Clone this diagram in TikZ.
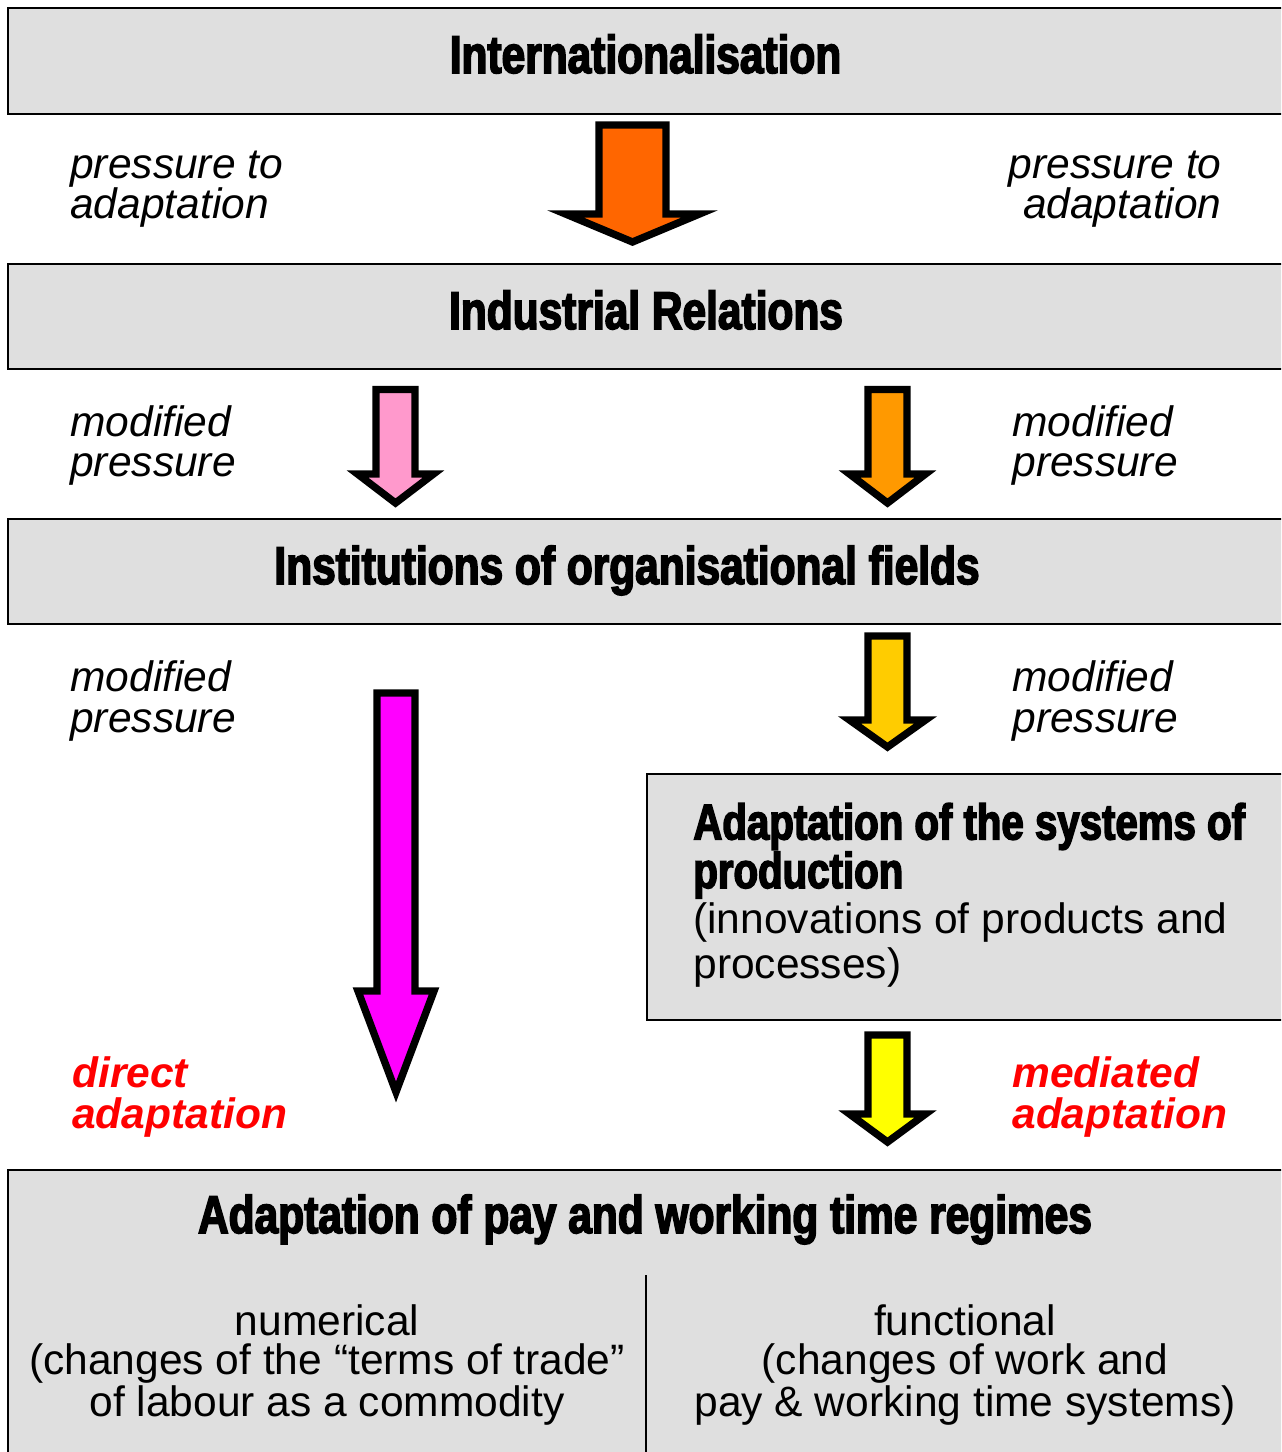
\documentclass[tikz,border=0pt]{standalone}
\usepackage{fontspec}
\setmainfont{Liberation Sans}
\newfontfamily\headfont[FakeStretch=0.8,FakeBold=3]{Liberation Sans}
\newcommand{\subhead}{\headfont\bfseries\fontsize{28.6pt}{25.6pt}\selectfont}
\definecolor{boxgray}{RGB}{223,223,223}
\definecolor{orangeA}{RGB}{255,102,0}
\definecolor{pinkA}{RGB}{255,153,204}
\definecolor{orangeB}{RGB}{255,153,0}
\definecolor{magentaA}{RGB}{255,0,255}
\definecolor{goldA}{RGB}{255,204,0}
\definecolor{yellowA}{RGB}{255,255,0}
\definecolor{redA}{RGB}{255,0,0}

\begin{document}
\begin{tikzpicture}[x=0.02cm, y=-0.02cm,
  box/.style={draw, line width=1.4pt, fill=boxgray, anchor=north west, inner sep=0pt, outer sep=0pt},
  title/.style={anchor=base, inner sep=0pt, font=\headfont\bfseries\fontsize{30.2pt}{30pt}\selectfont},
  pressure/.style={align=left, anchor=base west, inner sep=0pt, font=\itshape\fontsize{24.2pt}{23.3pt}\selectfont},
  adapt/.style={pressure, text=redA, font=\bfseries\itshape\fontsize{24.2pt}{23.3pt}\selectfont},
  regime/.style={align=center, anchor=base, inner sep=0pt, font=\fontsize{24.2pt}{22.2pt}\selectfont},
  pics/blockarrow/.style args={#1/#2/#3/#4/#5}{code={
    \filldraw[line width=4.2pt, fill=#5, miter limit=8] (-#1,0) -- (#1,0) -- (#1,#2) -- (#3,#2) -- (0,#4) -- (-#3,#2) -- (-#1,#2) -- cycle;}}
]
\clip (0,0) rectangle (1281,1452);

% Boxes
\node[box, minimum width=25.74cm, minimum height=2.12cm] (intl) at (8,8) {};
\node[box, minimum width=25.62cm, minimum height=2.1cm] (ir) at (8,264) {};
\node[box, minimum width=25.62cm, minimum height=2.1cm] (fields) at (8,519) {};
\node[box, minimum width=12.96cm, minimum height=4.92cm] (production) at (647,774) {};
\node[box, minimum width=25.74cm, minimum height=6cm] (regimes) at (8,1170) {};

% Box titles
\node[title] (intltitle) at (645.5,73) {Internationalisation};
\node[title] (irtitle) at (646,329) {Industrial Relations};
\node[title] (fieldstitle) at (627,584) {Institutions of organisational fields};
\node[title] (regimestitle) at (645,1233) {Adaptation of pay and working time regimes};

% Production box text (base = last line)
\node[anchor=base west, align=left, inner sep=0pt, font=\fontsize{24.2pt}{25.6pt}\selectfont] (productiontext) at (693,978)
  {\subhead Adaptation of the systems of\\ \subhead production\\ (innovations of products and\\ processes)};

% Divider and the two regimes
\draw[line width=0.9pt] (646,1275) -- (646,1470);
\node[regime] (numerical) at (327,1416) {numerical\\(changes of the “terms of trade”\\of labour as a commodity};
\node[regime] (functional) at (965,1416) {functional\\(changes of work and\\pay \& working time systems)};

% Block arrows
\pic at (632.5,125) {blockarrow=33.5/89/67/117/orangeA};
\pic at (395.5,389.5) {blockarrow=19.5/84.5/38/113.5/pinkA};
\pic at (887.5,389.5) {blockarrow=19.5/84.5/38/113.5/orangeB};
\pic at (396,693) {blockarrow=19/298/38/399/magentaA};
\pic at (887.5,636) {blockarrow=19.5/84/38/111/goldA};
\pic at (887.5,1035) {blockarrow=19.5/79/38/107/yellowA};

% Side labels
\node[pressure] (pressL) at (70,219) {pressure to\\adaptation};
\node[pressure, align=right, anchor=base east] (pressR) at (1222,219) {pressure to\\adaptation};
\node[pressure] (modL1) at (70,477) {modified\\pressure};
\node[pressure] (modR1) at (1012,477) {modified\\pressure};
\node[pressure] (modL2) at (70,732) {modified\\pressure};
\node[pressure] (modR2) at (1012,732) {modified\\pressure};
\node[adapt] (directadapt) at (72,1128) {direct\\adaptation};
\node[adapt] (mediatedadapt) at (1012,1128) {mediated\\adaptation};

\end{tikzpicture}
\end{document}
